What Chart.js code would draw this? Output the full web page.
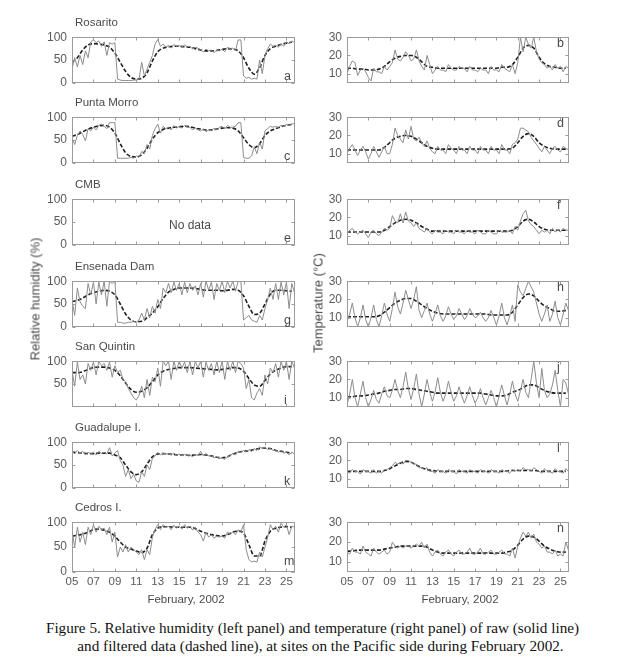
<!DOCTYPE html>
<html><head><meta charset="utf-8">
<script src="https://cdn.jsdelivr.net/npm/chart.js@4.4.0/dist/chart.umd.min.js"></script>
<style>
html,body{margin:0;padding:0;background:#fff;}
body{width:625px;height:665px;position:relative;overflow:hidden;font-family:"Liberation Sans",Arial,sans-serif;}
canvas{position:absolute;}
.t{position:absolute;white-space:nowrap;line-height:1;color:#4a4a4a;}
.site{font-size:11.5px;}
.let{font-size:12.5px;}
.ax{font-size:13px;}
.cap{position:absolute;left:0;width:625px;text-align:center;font-family:"Liberation Serif","Times New Roman",serif;font-size:15.2px;color:#111;line-height:1;white-space:nowrap;}
</style></head>
<body>
<script>
// ---------- axes ----------
const xTickDays   = [5, 7, 9, 11, 13, 15, 17, 19, 21, 23, 25];
const xTickLabels = ['05','07','09','11','13','15','17','19','21','23','25'];
const rhTicks   = [0, 50, 100];
const rhTicksSQ = [50, 100];
const tTicks    = [10, 20, 30];
const siteNames = ['Rosarito','Punta Morro','CMB','Ensenada Dam','San Quintin','Guadalupe I.','Cedros I.'];
const leftLetters  = ['a','c','e','g','i','k','m'];
const rightLetters = ['b','d','f','h','j','l','n'];
// raw: every 6 h from Feb 5 00h; filtered: every 12 h from Feb 5 00h

// ---------- relative humidity (%) ----------
const rosaritoRH_raw = [30,55,35,60, 40,70,55,90, 95,88,92,80, 90,60,88,85, 88,8,6,5, 5,5,5,6, 6,8,45,15, 30,45,60,85, 95,80,85,78, 82,76,84,80, 82,78,83,79, 80,74,78,76, 72,68,74,70, 72,66,72,70, 74,68,78,74, 76,70,94,94, 15,10,12,8, 10,8,50,20, 60,75,85,80, 82,78,86,80, 90,86,92,88];
const rosaritoRH_filt = [45,55,72,83,86,85,83,78,65,45, 25,12,8,10,22,48,68,76,79,80, 80,79,78,75,72,70,70,71,73,75, 74,70,55,32,19,33,60,75,80,84, 87,89];

const puntaMorroRH_raw = [55,40,60,70, 62,48,75,70, 78,72,82,85, 80,75,88,88, 88,10,10,10, 10,10,12,10, 15,12,25,20, 40,30,60,75, 85,65,80,75, 78,72,82,76, 80,76,82,78, 78,72,76,72, 70,74,68,72, 70,76,72,78, 80,74,82,78, 78,80,88,88, 12,10,10,15, 35,20,45,30, 70,75,80,78, 80,78,82,80, 84,82,85,86];
const puntaMorroRH_filt = [58,62,68,74,78,81,82,78,65,42, 22,14,13,18,32,52,66,73,76,78, 79,80,79,76,74,72,72,74,76,77, 76,70,55,40,33,42,60,70,75,79, 82,84];

const ensenadaRH_raw = [60,25,85,55, 45,40,95,70, 98,50,98,70, 100,45,100,95, 100,10,10,8, 8,10,10,12, 10,15,30,15, 40,20,45,30, 60,40,85,75, 95,75,98,80, 95,70,98,75, 95,80,90,70, 95,65,100,80, 98,60,95,80, 100,75,100,85, 100,78,100,100, 15,20,25,15, 12,10,25,15, 40,60,85,60, 95,60,98,70, 98,40,95,75];
const ensenadaRH_filt = [55,58,63,70,75,78,80,78,70,50, 28,15,11,12,20,30,44,62,76,82, 85,85,85,84,82,80,80,80,79,80, 82,80,68,45,27,30,50,72,80,80, 79,78];

const sanQuintinRH_raw = [80,45,98,60, 70,50,95,80, 98,70,100,90, 95,80,98,65, 90,75,80,60, 55,40,30,20, 15,25,45,20, 60,25,65,55, 85,45,100,90, 100,60,100,80, 100,85,98,75, 100,70,100,85, 100,65,98,80, 95,70,100,75, 100,60,100,80, 100,75,100,95, 85,40,60,20, 15,30,40,25, 70,50,85,75, 95,65,100,80, 100,60,100,85];
const sanQuintinRH_filt = [75,75,77,82,86,87,87,85,80,68, 52,38,32,34,42,55,70,78,82,84, 86,86,86,85,84,83,82,81,82,84, 86,85,78,62,48,45,58,72,80,85, 88,88];

const guadalupeRH_raw = [80,75,82,76, 80,72,78,74, 78,72,80,75, 78,74,88,70, 76,82,60,50, 25,40,20,30, 15,12,35,25, 50,40,65,70, 78,72,76,74, 75,72,76,72, 74,70,73,71, 72,68,74,70, 80,70,75,70, 70,66,68,64, 66,62,68,70, 76,72,80,78, 82,78,84,80, 86,82,90,86, 88,84,86,82, 82,78,82,76, 78,72,78,74];
const guadalupeRH_filt = [78,77,76,75,75,76,76,76,72,66, 50,35,29,35,52,68,74,75,74,73, 72,72,71,72,73,72,70,67,66,68, 74,78,80,81,84,86,87,86,82,80, 78,76];

const cedrosRH_raw = [85,50,90,60, 80,55,90,75, 95,80,92,85, 88,75,90,60, 80,30,50,40, 55,40,50,45, 40,35,45,25, 45,35,70,85, 95,85,95,90, 92,85,94,88, 92,86,95,88, 92,84,90,80, 75,62,80,70, 75,68,72,70, 72,68,80,76, 80,75,85,80, 95,45,25,20, 22,20,40,30, 50,70,95,85, 92,80,98,90, 95,75,92,90];
const cedrosRH_filt = [72,74,76,80,85,86,84,80,72,60, 50,46,42,39,48,75,88,91,91,90, 90,90,90,87,82,78,75,73,72,75, 80,82,78,55,32,32,62,82,88,90, 91,90];

// ---------- temperature (°C) ----------
const rosaritoT_raw = [10,14,17,16, 9,12,13,11, 8,6,13,11, 11,10,14,12, 14,16,23,18, 17,19,22,20, 17,18,23,17, 14,12,20,15, 10,12,14,12, 12,11,15,13, 12,12,14,13, 13,11,14,12, 12,11,13,12, 12,10,14,12, 12,11,15,13, 12,11,15,10, 16,30,22,30, 26,24,30,22, 18,16,15,13, 14,12,15,13, 14,11,14,13];
const rosaritoT_filt = [13,13,12.5,12.5,12,12,12.5,14,16.5,18.5, 19.5,20,20,19,16.5,14,13.5,13,13,13, 13,13,13,13,13,13,13,13,13,13.5, 13.5,15,19,24,25.5,24,19,15.5,14,13.5, 13,13];

const puntaMorroT_raw = [10,13,15,12, 9,12,14,11, 7,10,14,11, 8,11,14,10, 10,15,24,20, 18,16,23,18, 25,18,17,19, 16,14,17,13, 11,10,14,12, 12,10,15,13, 12,10,14,12, 12,10,14,12, 12,10,14,12, 12,10,14,12, 12,10,15,12, 12,10,15,16, 18,24,24,23, 22,19,17,15, 13,11,14,12, 10,13,14,12, 11,14,13,12];
const puntaMorroT_filt = [12,12,12,12,12,12,12,13.5,16,18.5, 19.5,20,19.5,18,16,14,13,12.5,12.5,12.5, 12.5,12.5,12.5,12.5,12.5,12.5,12.5,12.5,12.5,12.5, 12.5,13,16,19.5,21,19.5,16,14,13,12.5, 12.5,12.5];

const cmbT_raw = [11,13,14,12, 11,12,13,11, 9,12,13,11, 10,12,14,13, 14,21,18,17, 22,17,23,18, 17,15,17,14, 13,12,14,12, 11,13,12,12, 11,13,12,12, 11,13,12,12, 11,13,12,12, 11,13,12,11, 11,13,12,11, 11,13,12,12, 12,13,11,15, 13,18,22,24, 18,16,15,13, 11,13,12,13, 11,14,12,13, 12,14,13,13];
const cmbT_filt = [12,12,12,12,12,12,12,13,15,17, 18.5,19,18.5,17,15,13.5,12.5,12.5,12.5,12.5, 12.5,12.5,12.5,12.5,12.5,12.5,12.5,12.5,12.5,12.5, 12.5,13,15,18,19,17.5,15,13.5,13,13, 13,13];

const ensenadaT_raw = [8,12,18,10, 5,10,17,9, 5,10,17,9, 5,11,18,12, 8,15,24,16, 12,18,25,20, 15,20,27,14, 10,14,18,12, 8,12,17,11, 8,11,16,12, 9,11,15,12, 9,11,15,12, 10,11,13,10, 8,10,14,10, 6,11,18,10, 6,11,17,8, 28,24,22,26, 30,27,24,18, 12,8,12,17, 8,12,19,10, 6,12,18,14];
const ensenadaT_filt = [10.5,10.5,10.5,10.5,10.5,10.5,11,13,15.5,18, 19.5,20.5,20.5,19,17,15,13.5,12.5,12,12, 12,12,12,12,12,12,12,11.5,11.5,11.5, 11.5,13,17,21,23,22,19,16.5,15,13.5, 13.5,14];

const sanQuintinT_raw = [6,12,20,10, 5,12,19,10, 5,9,14,9, 7,12,16,11, 10,14,20,14, 10,16,24,15, 9,15,23,12, 5,12,20,13, 8,13,21,13, 8,12,19,13, 8,11,16,11, 7,11,16,11, 7,10,15,10, 6,10,14,10, 5,11,17,11, 6,12,19,12, 8,14,20,13, 10,20,30,18, 10,26,14,10, 12,17,25,14, 5,20,18,12];
const sanQuintinT_filt = [10.5,10.5,11,11,11.5,12,12.5,13.5,14,14.5, 14.5,15,15,14.5,14,13.5,13,12.5,12.5,12.5, 12.5,12.5,12.5,12.5,12.5,12.5,12,11.5,11,11, 11.5,13,14,15.5,17,17,15.5,14,13,12.5, 12.5,12.5];

const guadalupeT_raw = [14,13,15,14, 14,12.5,15,14, 14,13,15,13, 14,13,15,15, 16,17,19,18, 19,18,20,20, 19,18,18,16, 16,15,16,14, 14,13,15,14, 14,13,15,14, 14,12.5,15,14, 14,13,15,14, 14,13,15,14, 14,13,15,14, 14,13,15,14, 14,13,15,14, 15,14,16,15, 15,14,16,15, 14,13,15.5,14, 14,13,15.5,14, 14,13,15.5,14];
const guadalupeT_filt = [14,14,14,14,14,14,14,14.5,15.5,17, 18.5,19.5,19,17.5,16,15,14.5,14,14,14, 14,14,14,14,14,14,14,14,14,14, 14.2,14.5,14.5,14.5,14.5,14.5,14.2,14,14,14, 14,14];

const cedrosT_raw = [15,14,17,15, 15,14,18,15, 14,13,17,15, 14,15,16,14, 15,20,18,17, 18,17,18,18, 17,18,19,18, 20,17,19,15, 13,15,16,14, 13,15,16,14, 13,15,16,14, 14,15,17,14, 14,15,17,14, 14,15,16,14, 14,15,16,14, 14,13,17,12, 18,22,25,23, 25,22,24,20, 19,17,18,15, 15,14,16,13, 14,13,20,16];
const cedrosT_filt = [15.5,15.5,16,16,16,16,16,16.5,17,17.5, 18,18,18,18,18,17.5,16,15,14.5,14.5, 14.5,14.5,14.5,14.5,14.5,14.5,14.5,14.5,14.5,14.5, 15,16,18.5,21.5,23,22.5,20.5,18,16.5,15.5, 15,15];

// ---------- panel list ----------
const panels = [
  {side:'L', row:0, raw:rosaritoRH_raw,   filt:rosaritoRH_filt,   yt:rhTicks},
  {side:'L', row:1, raw:puntaMorroRH_raw, filt:puntaMorroRH_filt, yt:rhTicks},
  {side:'L', row:2, raw:null,             filt:null,              yt:rhTicks},
  {side:'L', row:3, raw:ensenadaRH_raw,   filt:ensenadaRH_filt,   yt:rhTicks},
  {side:'L', row:4, raw:sanQuintinRH_raw, filt:sanQuintinRH_filt, yt:rhTicksSQ},
  {side:'L', row:5, raw:guadalupeRH_raw,  filt:guadalupeRH_filt,  yt:rhTicks},
  {side:'L', row:6, raw:cedrosRH_raw,     filt:cedrosRH_filt,     yt:rhTicks},
  {side:'R', row:0, raw:rosaritoT_raw,    filt:rosaritoT_filt,    yt:tTicks},
  {side:'R', row:1, raw:puntaMorroT_raw,  filt:puntaMorroT_filt,  yt:tTicks},
  {side:'R', row:2, raw:cmbT_raw,         filt:cmbT_filt,         yt:tTicks},
  {side:'R', row:3, raw:ensenadaT_raw,    filt:ensenadaT_filt,    yt:tTicks},
  {side:'R', row:4, raw:sanQuintinT_raw,  filt:sanQuintinT_filt,  yt:tTicks},
  {side:'R', row:5, raw:guadalupeT_raw,   filt:guadalupeT_filt,   yt:tTicks},
  {side:'R', row:6, raw:cedrosT_raw,      filt:cedrosT_filt,      yt:tTicks}
];

// ---------- layout ----------
const rowTops = [33, 113, 195, 277, 357, 438, 518];
const panelH = 54;
const TICK_COLOR = '#5a5a5a';
const FONT = '"Liberation Sans", Arial, sans-serif';

const boxPlugin = {
  id: 'box',
  afterDatasetsDraw(chart) {
    const {ctx, chartArea: a, scales} = chart;
    const x = scales.x, y = scales.y;
    const L = Math.round(a.left) + 0.5, R = Math.round(a.right) - 0.5;
    const T = Math.round(a.top) + 0.5, B = Math.round(a.bottom) - 0.5;
    ctx.save();
    ctx.strokeStyle = '#9b9b9b';
    ctx.lineWidth = 1;
    ctx.strokeRect(L, T, R - L, B - T);
    ctx.beginPath();
    xTickDays.forEach(v => {
      const px = Math.round(x.getPixelForValue(v)) + 0.5;
      ctx.moveTo(px, T); ctx.lineTo(px, T + 3);
      ctx.moveTo(px, B); ctx.lineTo(px, B - 3);
    });
    chart.options.yTickList.forEach(v => {
      const py = Math.round(y.getPixelForValue(v)) + 0.5;
      ctx.moveTo(L, py); ctx.lineTo(L + 3, py);
      ctx.moveTo(R, py); ctx.lineTo(R - 3, py);
    });
    ctx.stroke();
    ctx.restore();
  }
};

function addText(cls, txt, left, top, extra) {
  const d = document.createElement('div');
  d.className = 't ' + cls;
  d.textContent = txt;
  d.style.left = left + 'px';
  d.style.top = top + 'px';
  if (extra) Object.assign(d.style, extra);
  document.body.appendChild(d);
  return d;
}

panels.forEach(p => {
  const isLeft = p.side === 'L';
  const bottomRow = p.row === 6;
  const padTop = 8;
  const xH = bottomRow ? 22 : 8;
  const cLeft = isLeft ? 0 : 300;
  const cW = 300;
  const yW = isLeft ? 72 : 47;
  const padRight = isLeft ? 5 : 31;
  const top = rowTops[p.row];
  const cH = padTop + panelH + xH;
  const c = document.createElement('canvas');
  c.width = cW; c.height = cH;
  c.style.left = cLeft + 'px'; c.style.top = (top - padTop) + 'px';
  c.style.width = cW + 'px'; c.style.height = cH + 'px';
  document.body.appendChild(c);

  const datasets = [];
  if (p.raw) {
    datasets.push({
      data: p.raw.map((v, i) => ({x: 5 + i * 0.25, y: v})),
      borderColor: '#8d8d8d', borderWidth: 1, pointRadius: 0, tension: 0, fill: false
    });
    datasets.push({
      data: p.filt.map((v, i) => ({x: 5 + i * 0.5, y: v})),
      borderColor: '#1e1e1e', borderWidth: 1.6, borderDash: [4, 2], pointRadius: 0,
      cubicInterpolationMode: 'monotone', fill: false
    });
  }
  const yMin = isLeft ? 0 : 5, yMax = isLeft ? 100 : 30;

  new Chart(c, {
    type: 'line',
    data: {datasets},
    options: {
      yTickList: p.yt,
      responsive: false, animation: false, devicePixelRatio: 1,
      events: [],
      layout: {padding: {top: padTop, right: padRight, left: 0, bottom: 0}},
      plugins: {legend: {display: false}, tooltip: {enabled: false}, title: {display: false}},
      scales: {
        x: {
          type: 'linear', min: 5, max: 25.8,
          afterBuildTicks: s => { s.ticks = xTickDays.map(v => ({value: v})); },
          afterFit: s => { s.height = xH; },
          grid: {display: false, drawTicks: false},
          border: {display: false},
          ticks: {
            display: bottomRow, autoSkip: false, maxRotation: 0, padding: 3,
            color: TICK_COLOR, font: {family: FONT, size: 11.5},
            callback: v => xTickLabels[xTickDays.indexOf(v)]
          }
        },
        y: {
          type: 'linear', min: yMin, max: yMax,
          afterBuildTicks: s => { s.ticks = p.yt.map(v => ({value: v})); },
          afterFit: s => { s.width = yW; },
          grid: {display: false, drawTicks: false},
          border: {display: false},
          ticks: {padding: 5, color: TICK_COLOR, font: {family: FONT, size: 12}}
        }
      }
    },
    plugins: [boxPlugin]
  });

  // labels
  if (isLeft) {
    addText('site', siteNames[p.row], 75, top - 16);
    addText('let', leftLetters[p.row], 284, top + panelH - 17);
  } else {
    addText('let', rightLetters[p.row], 557, top + 4);
  }
});

addText('site', 'No data', 190, 225, {transform: 'translate(-50%,-50%)', fontSize: '12px'});
addText('ax', 'Relative humidity (%)', 35, 299, {transform: 'translate(-50%,-50%) rotate(-90deg)'});
addText('ax', 'Temperature (\u00B0C)', 318, 303, {transform: 'translate(-50%,-50%) rotate(-90deg)'});
addText('site', 'February, 2002', 186, 600, {transform: 'translate(-50%,-50%)', fontSize: '11.5px'});
addText('site', 'February, 2002', 460, 600, {transform: 'translate(-50%,-50%)', fontSize: '11.5px'});

const cap1 = document.createElement('div');
cap1.className = 'cap'; cap1.style.top = '620px'; cap1.style.left = '0px';
cap1.textContent = 'Figure 5. Relative humidity (left panel) and temperature (right panel) of raw (solid line)';
document.body.appendChild(cap1);
const cap2 = document.createElement('div');
cap2.className = 'cap'; cap2.style.top = '638px'; cap2.style.left = '8px';
cap2.textContent = 'and filtered data (dashed line), at sites on the Pacific side during February 2002.';
document.body.appendChild(cap2);
</script>
</body></html>
